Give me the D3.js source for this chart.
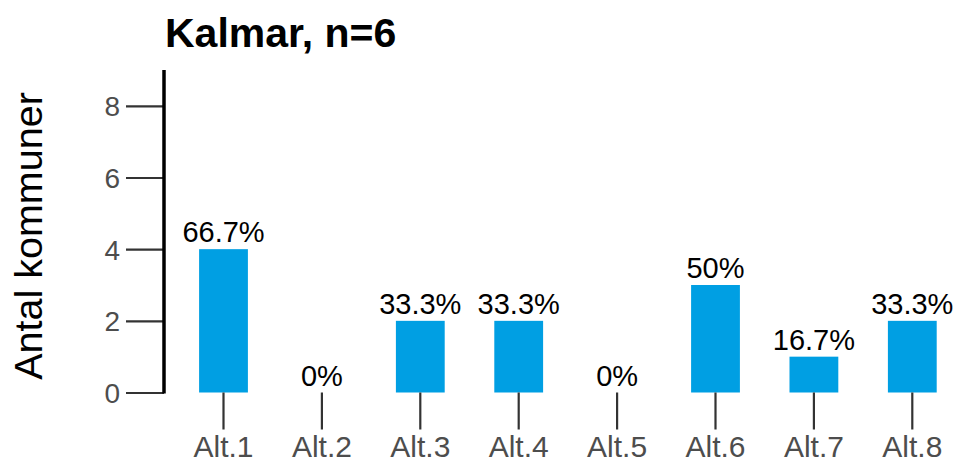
<!DOCTYPE html>
<html>
<head>
<meta charset="utf-8">
<style>
  body { margin: 0; background: #fff; }
  text { font-family: "Liberation Sans", Arial, sans-serif; }
</style>
</head>
<body></body>
<script src="https://cdn.jsdelivr.net/npm/d3@7"></script>
<script>

var title = "Kalmar, n=6";
var n = 6;
var categories = ["Alt.1", "Alt.2", "Alt.3", "Alt.4", "Alt.5", "Alt.6", "Alt.7", "Alt.8"];
var counts = [4, 0, 2, 2, 0, 3, 1, 2];
var yTicks = [0, 2, 4, 6, 8];

var width = 958, height = 463;

var svg = d3.select("body").append("svg")
	.attr("width", width)
	.attr("height", height);

var x = d3.scaleBand()
	.domain(categories)
	.range([174.3, 961.5])
	.paddingInner(0.504)
	.paddingOuter(0.252);

var y = d3.scaleLinear()
	.domain([0, 9])
	.range([392.5, 70]);

var pct = v => (Math.round(v / n * 1000) / 10) + "%";

// bars
svg.append("g").selectAll("rect")
	.data(counts)
  .enter().append("rect")
	.attr("x", (d, i) => x(categories[i]))
	.attr("y", d => y(d))
	.attr("width", x.bandwidth())
	.attr("height", d => y(0) - y(d))
	.attr("fill", "#009fe3");

// value labels
svg.append("g").selectAll("text")
	.data(counts)
  .enter().append("text")
	.attr("x", (d, i) => x(categories[i]) + x.bandwidth() / 2)
	.attr("y", d => y(d) - 7)
	.attr("text-anchor", "middle")
	.attr("font-size", 29)
	.attr("fill", "#000")
	.text(d => pct(d));

// y axis
var yAxis = svg.append("g")
	.attr("transform", "translate(164,0)")
	.call(d3.axisLeft(y).tickValues(yTicks).tickSize(38).tickPadding(6));
yAxis.select(".domain").remove();
yAxis.selectAll(".tick line").attr("stroke", "#333").attr("stroke-width", 2.2);
yAxis.selectAll(".tick text")
	.attr("font-size", 28)
	.attr("font-family", "Liberation Sans, Arial, sans-serif")
	.attr("fill", "#4d4d4d")
	.attr("dy", "0.36em");

svg.append("line")
	.attr("x1", 164).attr("x2", 164)
	.attr("y1", y(9)).attr("y2", y(0) + 1)
	.attr("stroke", "#000")
	.attr("stroke-width", 3.5);

// x axis
var xAxis = svg.append("g")
	.attr("transform", "translate(0," + y(0) + ")")
	.call(d3.axisBottom(x).tickSize(37).tickPadding(6));
xAxis.select(".domain").remove();
xAxis.selectAll(".tick line").attr("stroke", "#333").attr("stroke-width", 2.2);
xAxis.selectAll(".tick text")
	.attr("font-size", 30)
	.attr("font-family", "Liberation Sans, Arial, sans-serif")
	.attr("fill", "#4d4d4d");

// y label
svg.append("text")
	.attr("transform", "translate(42,236) rotate(-90)")
	.attr("text-anchor", "middle")
	.attr("font-size", 39.5)
	.attr("fill", "#000")
	.text("Antal kommuner");

// title
svg.append("text")
	.attr("x", 165)
	.attr("y", 47)
	.attr("font-size", 41)
	.attr("font-weight", "bold")
	.attr("fill", "#000")
	.text(title);

</script>
</html>
